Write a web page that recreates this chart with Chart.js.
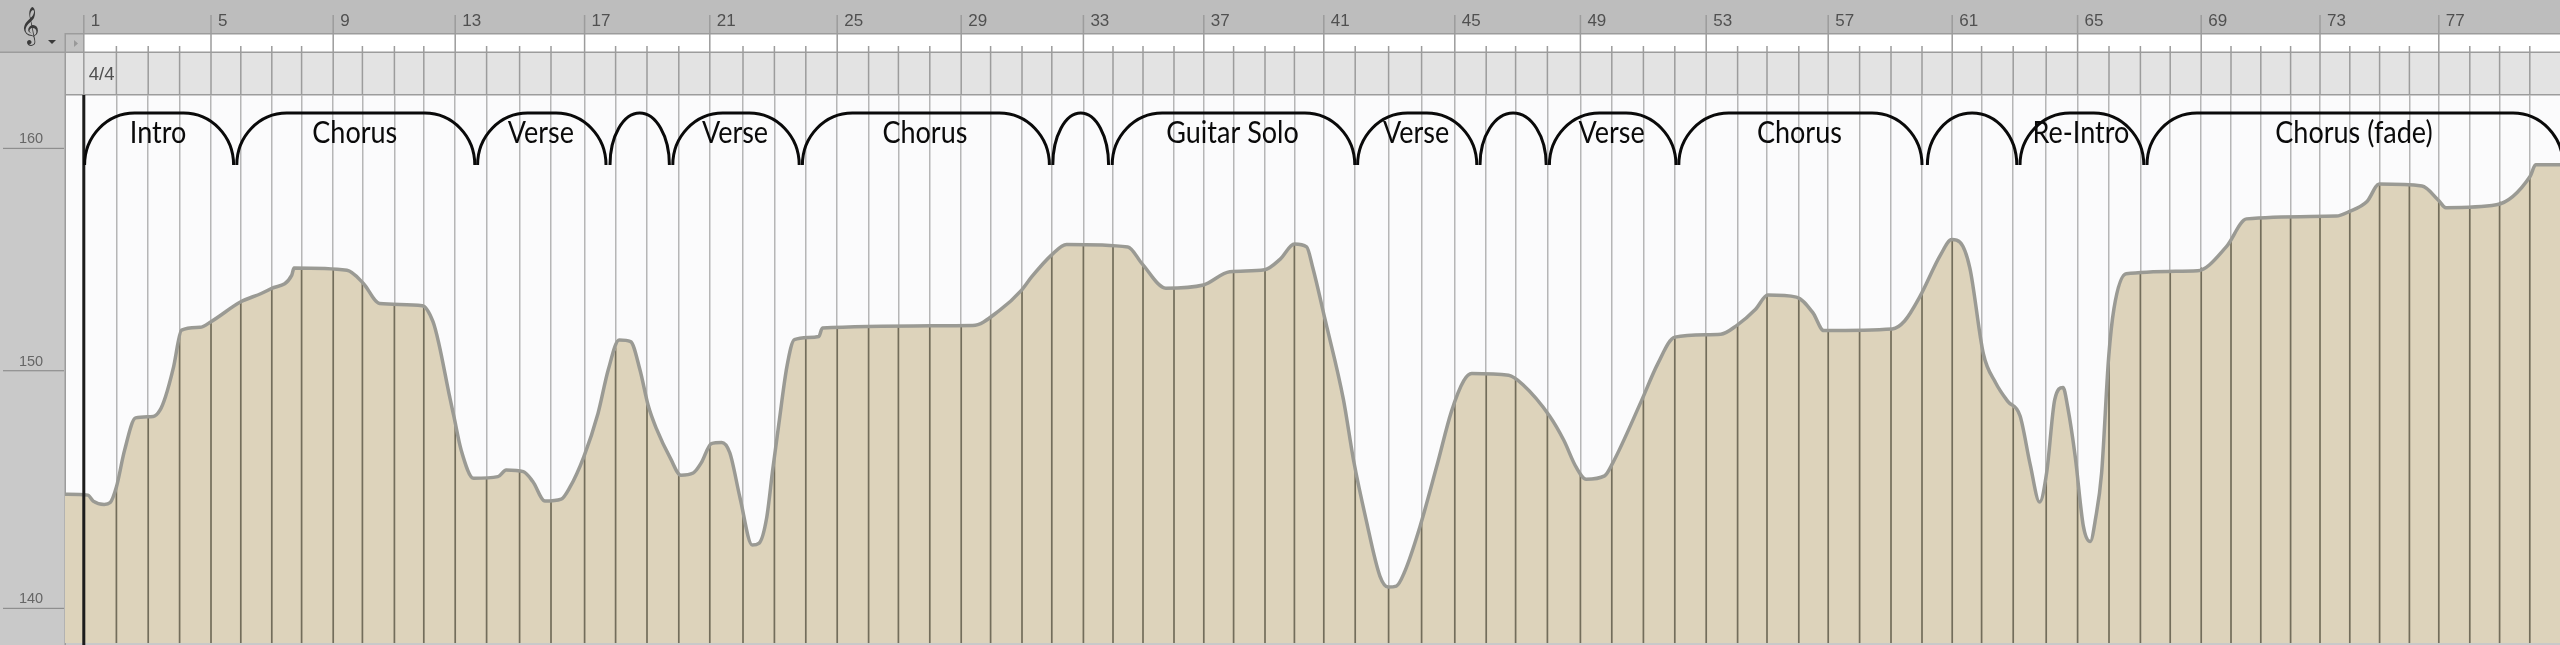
<!DOCTYPE html>
<html><head><meta charset="utf-8">
<style>html,body{margin:0;padding:0;background:#fff;overflow:hidden}canvas{display:block}</style>
<script src="https://cdn.jsdelivr.net/npm/chart.js@4"></script>
</head><body><canvas id="c" width="2560" height="645"></canvas>
<script>
const barTimes=[4.19,5.82,7.41,8.98,10.55,12.04,13.59,15.08,16.66,18.12,19.72,21.19,22.76,24.33,25.98,27.55,29.23,30.78,32.35,33.94,35.49,37.15,38.72,40.29,41.86,43.43,44.92,46.49,48.06,49.53,51.1,52.59,54.17,55.65,57.15,58.7,60.19,61.68,63.25,64.72,66.19,67.76,69.43,71.08,72.74,74.31,75.78,77.37,79.02,80.59,82.17,83.74,85.31,86.88,88.35,89.94,91.41,92.98,94.55,96.1,97.61,99.08,100.66,102.31,103.88,105.45,107.02,108.51,110.06,111.55,113.04,114.53,116,117.49,118.98,120.47,121.94,123.49,124.98,126.49];
const barLabels=["1","5","9","13","17","21","25","29","33","37","41","45","49","53","57","61","65","69","73","77"];
const tempoTimes=[3.25,4.39,4.66,5.21,5.51,5.82,6.23,6.78,7.66,8,8.27,8.68,9.08,10,10.55,12.04,13.06,13.57,14.59,14.7,17.35,18.17,18.98,21.12,21.65,21.94,22.45,22.7,23.06,23.68,24.9,25.31,26.17,26.64,27.25,28.06,28.47,29.19,29.9,30.41,30.96,31.53,32,32.41,32.82,33.53,34.04,34.66,35.06,35.57,36.08,36.49,37,37.61,37.96,38.33,38.64,38.94,39.35,39.72,40.94,41.12,48.64,49.96,51.08,51.59,52.57,53.33,56.39,57.1,58.29,60.17,61.49,63.23,64,64.72,65.33,65.64,66.25,67.17,67.68,68.29,69,69.41,69.82,70.23,70.94,71.86,72.57,73.19,73.59,75.43,76.15,77.47,78.19,78.8,79.31,80.23,80.64,82.06,82.88,83.74,86.04,86.86,87.78,88.39,89.82,90.64,91.19,94.61,95.23,96,97.02,97.59,98,98.49,99.17,99.78,100.39,101,101.51,101.98,102.33,102.74,103.15,103.39,103.76,104.17,104.51,104.78,105.08,105.43,105.7,106.31,109.88,111.31,112.33,116.82,117.43,118.35,118.96,121.1,121.92,122.29,124.82,126.51,126.78,128];
const tempoValues=[144.72,144.68,144.43,144.29,144.37,145.02,146.58,147.96,148.02,148.29,148.86,150.17,151.78,151.9,152.15,153.03,153.4,153.62,154.22,154.54,154.44,153.85,152.96,152.86,152.15,151.2,149.01,148,146.58,145.39,145.46,145.74,145.67,145.25,144.43,144.51,144.97,146.3,148.15,150.03,151.34,151.27,150.03,148.49,147.5,146.22,145.52,145.61,146.04,146.86,146.91,146.47,144.57,142.6,142.68,143.71,145.78,147.69,150.2,151.36,151.5,151.87,151.98,152.64,153.55,154.15,155.12,155.6,155.49,154.74,153.64,153.78,154.37,154.46,154.93,155.62,155.49,154.55,152.26,148.76,146.14,143.71,141.31,140.87,140.91,141.49,143.2,145.97,148.23,149.57,149.88,149.8,149.39,148.05,147,145.87,145.35,145.49,146.04,148.67,150.29,151.47,151.6,152,152.7,153.33,153.24,152.55,151.76,151.83,152.18,153.27,155.12,155.82,155.7,154.55,150.73,149.48,148.67,148.05,145.97,144.39,145.61,148.76,149.27,148.4,146.31,143.37,142.74,143.71,145.61,150.55,152.74,154.28,154.42,155.49,156.76,156.89,157.08,157.55,158.35,158.26,157.61,157.27,157.4,158.71,159.24,159.24];
const tempoTicks=[140,150,160];
const sectionNames=["Intro","Chorus","Verse","","Verse","Chorus","","Guitar Solo","Verse","","Verse","Chorus","","Re-Intro","Chorus (fade)"];
const sectionStarts=[4.23,11.84,23.88,30.5,33.64,40.12,52.64,55.61,67.88,74,77.47,83.94,96.37,101,107.35];
const sectionEnds=[11.68,23.74,30.3,33.47,39.96,52.47,55.43,67.74,73.84,77.31,83.8,96.1,100.84,107.19,128.15];
const signature="4/4", playheadBar=0;

const C={head:'#bdbdbd',gutter:'#c9c9c9',band:'#e3e3e3',plot:'#fbfbfc',rule:'#9c9c9c',grid:'#b6b6b6',gridDark:'#736d5b',fill:'#ddd3bb',line:'#9a9a94'};

const decor={id:'decor',
 beforeDraw(ch){const g=ch.ctx,W=ch.width,H=ch.height,A=ch.chartArea,x=ch.scales.x;
  g.save();
  g.fillStyle=C.gutter;g.fillRect(0,0,W,H);
  g.fillStyle=C.head;g.fillRect(0,0,W,33);g.fillRect(0,33,65,19);
  g.fillStyle=C.plot;g.fillRect(A.left,A.top,A.width,A.height);
  const b1=x.getPixelForValue(barTimes[0]);
  g.fillStyle='#fff';g.fillRect(b1,33,W-b1,19);
  g.fillStyle='#c2c2c2';g.fillRect(65,33,b1-65,19);
  g.fillStyle=C.band;g.fillRect(65,52,W-65,43);
  g.fillStyle=C.rule;g.fillRect(0,51.5,W,1.5);g.fillRect(65,33,W-65,1.5);g.fillRect(65,94,W-65,1.5);g.fillRect(64.5,33,1.5,H-33);
  barTimes.forEach((t,i)=>{const p=x.getPixelForValue(t),major=i%4===0;
    g.fillStyle=C.rule;g.fillRect(p-.75,major?15:46,1.5,A.top-(major?15:46));});
  g.restore();},
 afterDatasetDraw(ch,args){ if(args.index!==1)return;
  const g=ch.ctx,A=ch.chartArea,x=ch.scales.x,pts=ch.getDatasetMeta(1).data;
  g.save();g.beginPath();g.moveTo(A.left,A.bottom);
  pts.forEach(p=>g.lineTo(p.x,p.y));g.lineTo(A.right,A.bottom);g.closePath();g.clip();
  g.fillStyle=C.gridDark;
  barTimes.forEach(t=>{g.fillRect(x.getPixelForValue(t)-.85,A.top,1.7,A.height);});
  g.restore();},
 afterDraw(ch){const g=ch.ctx,A=ch.chartArea,x=ch.scales.x,y=ch.scales.y;
  g.save();
  const ph=x.getPixelForValue(barTimes[playheadBar]);
  g.fillStyle='#1c1c1c';g.fillRect(ph-1.5,A.top,3,ch.height-A.top);
  g.font='17px "Liberation Sans"';g.fillStyle='#505050';g.textBaseline='middle';g.textAlign='left';
  barLabels.forEach((s,k)=>{g.fillText(s,x.getPixelForValue(barTimes[k*4])+7,21);});
  g.font='18.5px "Liberation Sans"';
  g.fillText(signature,x.getPixelForValue(barTimes[0])+5,75);
  g.font='14.5px "Liberation Sans"';g.textAlign='center';
  tempoTicks.forEach(v=>{const p=y.getPixelForValue(v);
    g.fillStyle='#8e8e8e';g.fillRect(3,p-.6,61,1.2);g.fillStyle='#666';g.fillText(String(v),31,p-9);});
  g.fillStyle='#3a3a3a';g.font='33px "DejaVu Sans"';g.textAlign='center';g.fillText('\u{1D11E}',30,27);
  g.beginPath();g.moveTo(48,40);g.lineTo(56,40);g.lineTo(52,44);g.closePath();g.fill();
  g.fillStyle='#999';g.beginPath();g.moveTo(74,40);g.lineTo(78,43.5);g.lineTo(74,47);g.closePath();g.fill();
  const top=113,bot=165,ry=bot-top;
  g.strokeStyle='#0a0a0a';g.lineWidth=3;
  sectionNames.forEach((n,i)=>{const a=x.getPixelForValue(sectionStarts[i]),b=x.getPixelForValue(sectionEnds[i]),rx=Math.min(50,(b-a)/2);
    g.beginPath();g.moveTo(a,bot);
    g.ellipse(a+rx,bot,rx,ry,0,Math.PI,1.5*Math.PI);
    g.lineTo(b-rx,top);
    g.ellipse(b-rx,bot,rx,ry,0,1.5*Math.PI,2*Math.PI);
    g.stroke();
    if(n){g.save();g.translate((a+b)/2-1,143);g.scale(1,1.14);
      g.font='27px Lato';g.fillStyle='#0a0a0a';g.textAlign='center';g.textBaseline='alphabetic';g.fillText(n,0,0);g.restore();}
  });
  g.restore();}
};

const points=tempoTimes.map((t,i)=>({x:t,y:tempoValues[i]}));
new Chart(document.getElementById('c'),{type:'line',
 data:{datasets:[
  {data:points,order:1,borderColor:C.line,borderWidth:3.5,pointRadius:0,cubicInterpolationMode:'monotone',fill:false,borderJoinStyle:'round'},
  {data:points,order:2,borderWidth:0,borderColor:'transparent',backgroundColor:C.fill,pointRadius:0,cubicInterpolationMode:'monotone',fill:'start'}
 ]},
 options:{responsive:false,animation:false,devicePixelRatio:1,
  layout:{padding:{top:95,left:65,right:0,bottom:2}},
  plugins:{legend:{display:false},tooltip:{enabled:false},title:{display:false}},
  scales:{
   x:{type:'linear',min:3.25,max:128,border:{display:false},
      afterBuildTicks(s){s.ticks=barTimes.map(value=>({value}));},
      afterFit(s){s.height=0;},
      grid:{display:true,color:C.grid,lineWidth:1.5,drawTicks:false},
      ticks:{display:false,autoSkip:false}},
   y:{type:'logarithmic',min:138.6,max:162.5,border:{display:false},
      afterBuildTicks(s){s.ticks=tempoTicks.map(value=>({value}));},
      afterFit(s){s.width=0;},
      grid:{display:false,drawTicks:false},ticks:{display:false}}
  }},
 plugins:[decor]});
</script></body></html>
